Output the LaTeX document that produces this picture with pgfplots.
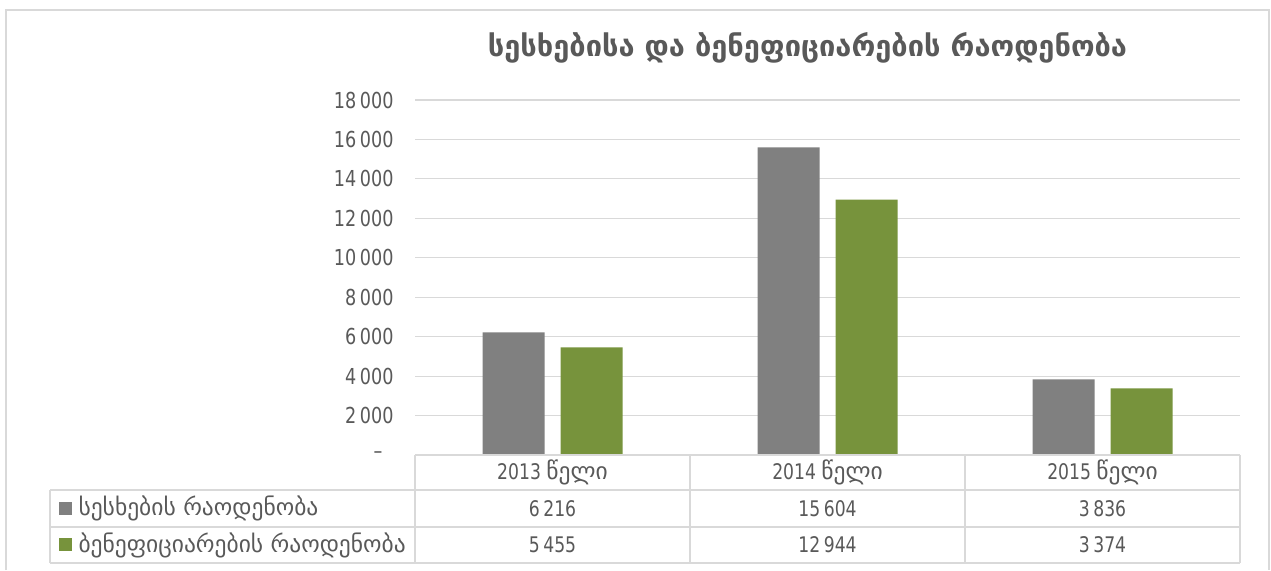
\documentclass[border=0pt]{standalone}
\usepackage{fontspec}
\setmainfont{DejaVu Sans}
\newfontfamily\nf{DejaVu Sans}[FakeStretch=0.8]
\usepackage{pgfplots}
\pgfplotsset{compat=1.18}
\definecolor{txt}{HTML}{595959}
\definecolor{grd}{HTML}{D9D9D9}
\definecolor{bgray}{HTML}{808080}
\definecolor{bgreen}{HTML}{77933C}
\newcommand{\geo}[1]{{\rmfamily\fontsize{23.5}{23.5}\selectfont #1}}
\begin{document}
\begin{tikzpicture}[x=1pt,y=1pt]
\useasboundingbox (0,0) rectangle (1271,570);
\draw[grd, line width=1.5pt] (6,0) -- (6,560) -- (1269,560) -- (1269,0);
\begin{axis}[
  at={(415pt,115pt)}, anchor=south west,
  scale only axis, width=825pt, height=355pt,
  xmin=-0.5, xmax=2.5, ymin=0, ymax=18000,
  scaled y ticks=false,
  xtick=\empty,
  ytick={0,2000,...,18000},
  yticklabels={\textendash\hspace*{11pt},2\,000,4\,000,6\,000,8\,000,10\,000,12\,000,14\,000,16\,000,18\,000},
  yticklabel style={font=\nf\fontsize{22}{22}\selectfont, text=txt, xshift=-18pt},
  ymajorgrids, grid style={grd, line width=1.2pt},
  axis line style={draw=none},
  tick style={draw=none},
  ybar=16pt, bar width=62pt,
]
\addplot[fill=bgray, draw=none] coordinates {(0,6216) (1,15604) (2,3836)};
\addplot[fill=bgreen, draw=none] coordinates {(0,5455) (1,12944) (2,3374)};
\end{axis}
\node[font=\bfseries\fontsize{29}{29}\selectfont, text=txt] at (807.5,522) {სესხებისა და ბენეფიციარების რაოდენობა};
% table
\begin{scope}[grd, line width=1.5pt]
\draw (415,115) -- (1240,115);
\draw (50,80) -- (1240,80);
\draw (50,43) -- (1240,43);
\draw (50,7) -- (1240,7);
\draw (50,80) -- (50,7);
\foreach \x in {415,690,965,1240} \draw (\x,115) -- (\x,7);
\end{scope}
\begin{scope}[every node/.style={font=\nf\fontsize{21.5}{21.5}\selectfont, text=txt}]
\node at (552.5,98) {2013 \geo{წელი}};
\node at (827.5,98) {2014 \geo{წელი}};
\node at (1102.5,98) {2015 \geo{წელი}};
\node at (552.5,61.5) {6\,216};
\node at (827.5,61.5) {15\,604};
\node at (1102.5,61.5) {3\,836};
\node at (552.5,25) {5\,455};
\node at (827.5,25) {12\,944};
\node at (1102.5,25) {3\,374};
\node[anchor=west] at (75,61.5) {\geo{სესხების რაოდენობა}};
\node[anchor=west] at (75,25) {\geo{ბენეფიციარების რაოდენობა}};
\end{scope}
\fill[bgray] (59,55) rectangle (72,68);
\fill[bgreen] (59,18.5) rectangle (72,31.5);
\end{tikzpicture}
\end{document}
